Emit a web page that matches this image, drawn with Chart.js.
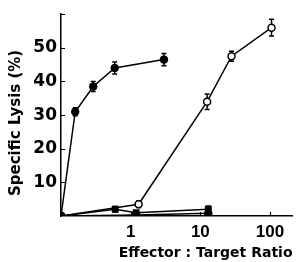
<!DOCTYPE html>
<html>
<head>
<meta charset="utf-8">
<script src="https://cdn.jsdelivr.net/npm/chart.js@4/dist/chart.umd.min.js"></script>
<style>
html,body{margin:0;padding:0;background:#fff;}
#wrap{width:298px;height:262px;}
</style>
</head>
<body>
<div id="wrap"><canvas id="c" width="298" height="262"></canvas></div>
<script>
// ---- data ----
const xTickValues = [1, 10, 100];
const yTickValues = [10, 20, 30, 40, 50];

const filledX   = [0.1, 0.16, 0.29, 0.59, 3.0];
const filledY   = [0, 31, 38.5, 44, 46.5];
const filledErr = [0, 1.2, 1.5, 1.8, 1.8];

const openX   = [0.1, 1.3, 12.5, 28, 105];
const openY   = [0, 3.5, 34, 47.5, 56];
const openErr = [0, 1, 2.3, 1.5, 2.5];

const squareX   = [0.1, 0.6, 1.2, 13];
const squareY   = [0, 2, 1, 2];
const squareErr = [0, 0.8, 0, 1];

const lowX = [0.1, 1.2, 13];
const lowY = [0, 0.3, 0.8];

function pts(xs, ys) { return xs.map((x, i) => ({x: x, y: ys[i]})); }

const errPlugin = {
  id: 'errbars',
  beforeDatasetsDraw(chart) {
    const ctx = chart.ctx;
    const xs = chart.scales.x, ys = chart.scales.y;
    ctx.save();
    ctx.strokeStyle = '#000';
    ctx.lineWidth = 1.5;
    chart.data.datasets.forEach(ds => {
      if (!ds.err) return;
      ds.data.forEach((p, i) => {
        const e = ds.err[i];
        if (!e) return;
        const px = xs.getPixelForValue(p.x);
        const y1 = ys.getPixelForValue(p.y + e);
        const y2 = ys.getPixelForValue(p.y - e);
        ctx.beginPath();
        ctx.moveTo(px, y1); ctx.lineTo(px, y2);
        ctx.moveTo(px - 2.5, y1); ctx.lineTo(px + 2.5, y1);
        ctx.moveTo(px - 2.5, y2); ctx.lineTo(px + 2.5, y2);
        ctx.stroke();
      });
    });
    ctx.restore();
  },
  afterDraw(chart) {
    // inward tick marks
    const ctx = chart.ctx;
    const xs = chart.scales.x, ys = chart.scales.y;
    const a = chart.chartArea;
    ctx.save();
    ctx.strokeStyle = '#000';
    ctx.lineWidth = 1.2;
    ctx.beginPath();
    yTickValues.concat([60]).forEach(v => {
      const py = Math.round(ys.getPixelForValue(v)) + 0.5;
      ctx.moveTo(a.left, py); ctx.lineTo(a.left + 4, py);
    });
    xTickValues.forEach(v => {
      const px = Math.round(xs.getPixelForValue(v)) + 0.5;
      ctx.moveTo(px, a.bottom); ctx.lineTo(px, a.bottom - 4);
    });
    ctx.stroke();
    ctx.restore();
  }
};

const lineStyle = {borderColor: '#000', borderWidth: 1.5, tension: 0, showLine: true};

new Chart(document.getElementById('c'), {
  type: 'scatter',
  data: {
    datasets: [
      Object.assign({data: pts(filledX, filledY), err: filledErr, pointRadius: 3.8,
        pointBackgroundColor: '#000', pointBorderColor: '#000', pointBorderWidth: 1}, lineStyle),
      Object.assign({data: pts(openX, openY), err: openErr, pointRadius: 3.5,
        pointBackgroundColor: ['#000','#fff','#fff','#fff','#fff'], pointBorderColor: '#000', pointBorderWidth: 1.5}, lineStyle),
      Object.assign({data: pts(squareX, squareY), err: squareErr, pointStyle: 'rect', pointRadius: 3.8,
        pointBackgroundColor: '#000', pointBorderColor: '#000'}, lineStyle),
      Object.assign({data: pts(lowX, lowY), pointRadius: 3.5,
        pointBackgroundColor: '#000', pointBorderColor: '#000'}, lineStyle)
    ]
  },
  options: {
    responsive: false,
    animation: false,
    layout: {padding: {top: 13, right: 3, left: 0, bottom: 0}},
    plugins: {legend: {display: false}, tooltip: {enabled: false}},
    scales: {
      x: {
        type: 'logarithmic',
        min: 0.1, max: 210,
        afterBuildTicks(s) { s.ticks = xTickValues.map(v => ({value: v})); },
        afterFit(s) { s.height = 46; },
        grid: {display: true, drawOnChartArea: false, drawTicks: false, color: 'rgba(0,0,0,0)'},
        border: {display: true, color: '#000', width: 1.5},
        ticks: {autoSkip: false, maxRotation: 0, padding: 6, color: '#000',
          font: {family: 'Liberation Sans', size: 17, weight: 'bold'},
          callback: v => String(v)},
        title: {display: true, text: 'Effector : Target Ratio', align: 'end', color: '#000',
          font: {family: 'DejaVu Sans', size: 14, weight: 'bold'}, padding: {top: 0, bottom: 0}}
      },
      y: {
        min: 0, max: 60,
        afterBuildTicks(s) { s.ticks = yTickValues.map(v => ({value: v})); },
        afterFit(s) { s.width = 61; },
        grid: {display: true, drawOnChartArea: false, drawTicks: false, color: 'rgba(0,0,0,0)'},
        border: {display: true, color: '#000', width: 1.5},
        ticks: {padding: 4, color: '#000',
          font: {family: 'DejaVu Sans', size: 17, weight: 'bold'}},
        title: {display: true, text: 'Specific Lysis (%)   ', color: '#000',
          font: {family: 'DejaVu Sans', size: 15, weight: 'bold'}, padding: {top: 7, bottom: 0}}
      }
    }
  },
  plugins: [errPlugin]
});
</script>
</body>
</html>
